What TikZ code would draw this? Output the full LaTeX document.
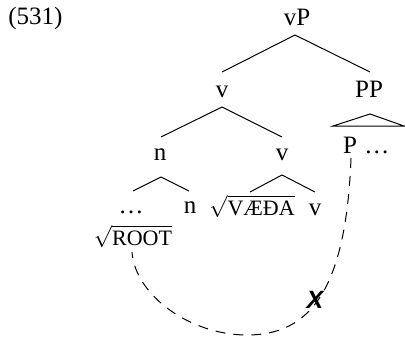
\documentclass[tikz,border=0pt]{standalone}
\usepackage{fontspec}
\setmainfont{Liberation Serif}
\newfontfamily\xsans{Liberation Sans}
\usetikzlibrary{calc}
\begin{document}
\begin{tikzpicture}[x=0.5pt,y=-0.5pt,
  lab/.style={anchor=base,inner sep=0pt,font=\fontsize{12.5}{15}\selectfont},
  rt/.style={anchor=base,inner sep=0pt,font=\fontsize{11}{13}\selectfont},
  edge/.style={line width=0.5pt},
  link/.style={dash pattern=on 5pt off 4pt,line width=0.5pt}]
\useasboundingbox (0,0) rectangle (405,338);
\node[lab,anchor=base west] (ex) at (8,24) {(531)};
\node[lab] (vP) at (297,25) {vP};
\node[lab] (v1) at (222,97) {v};
\node[lab] (PP) at (369,97) {PP};
\node[lab] (n1) at (160,160) {n};
\node[lab] (v2) at (282,160) {v};
\node[lab] (dots) at (131,213) {\dots};
\node[lab] (n2) at (190,213) {n};
\node[rt] (root) at (133,245) {$\sqrt{\mbox{ROOT}}$};
\node[rt] (vaeda) at (252,215) {$\sqrt{\mbox{VÆÐA}}$};
\node[lab] (v3) at (315,215) {v};
\node[lab] (P) at (350,153) {P};
\node[lab,anchor=base west] (Pd) at (364,153) {\dots};
\node[lab,anchor=center,font=\fontsize{12.5}{15}\selectfont\xsans\bfseries\itshape] (X) at (315,300) {X};
\draw[edge] ($(vP.base)+(-2,10)$) -- ($(v1.base)+(0,-25)$);
\draw[edge] ($(vP.base)+(-2,10)$) -- ($(PP.base)+(1,-25)$);
\draw[edge] ($(v1.base)+(0,10)$) -- ($(n1.base)+(1,-23)$);
\draw[edge] ($(v1.base)+(0,10)$) -- ($(v2.base)+(0,-23)$);
\draw[edge] ($(n1.base)+(1,17)$) -- ($(dots.base)+(2,-22)$);
\draw[edge] ($(n1.base)+(1,17)$) -- ($(n2.base)+(-1,-22)$);
\draw[edge] ($(v2.base)+(0,15)$) -- ($(vaeda.base)+(-2,-23)$);
\draw[edge] ($(v2.base)+(0,15)$) -- ($(v3.base)+(0,-23)$);
\draw[edge] ($(PP.base)+(1,17)$) -- ($(PP.base)+(-36,29)$) -- ($(PP.base)+(35,29)$) -- cycle;
\draw[link] ($(P.base)+(1,5)$) .. controls (346,290) and (310,335) .. (247,335) .. controls (190,335) and (135,295) .. ($(root.base)+(-1,7)$);
\end{tikzpicture}
\end{document}
